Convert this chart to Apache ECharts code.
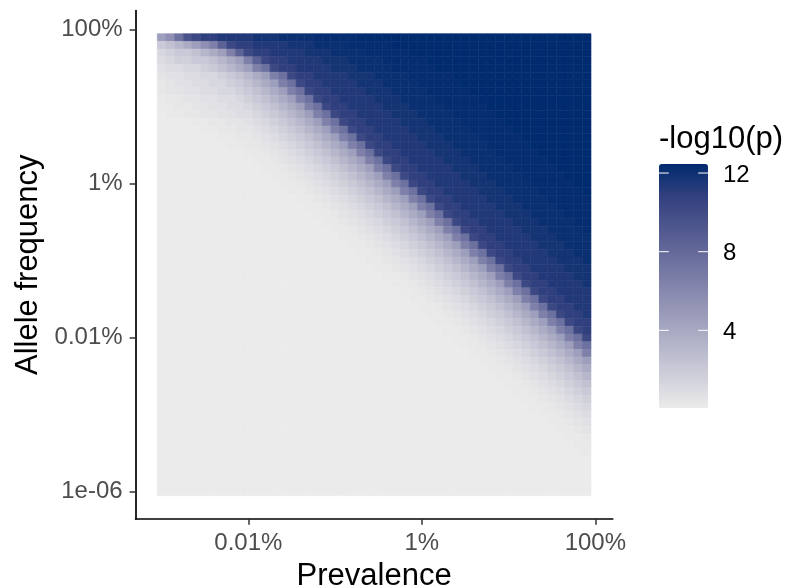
<!DOCTYPE html>
<html><head><meta charset="utf-8">
<script src="https://cdn.jsdelivr.net/npm/echarts@6/dist/echarts.min.js"></script>
<style>html,body{margin:0;padding:0;background:#fff}#c{width:786px;height:588px}</style>
</head><body><div id="c"></div>
<script>
// log10(prevalence) of each heatmap column (tile centres)
const prevalenceLog = [-5.0,-4.9,-4.8,-4.7,-4.6,-4.5,-4.4,-4.3,-4.2,-4.1,-4.0,-3.9,-3.8,-3.7,-3.6,-3.5,-3.4,-3.3,-3.2,-3.1,-3.0,-2.9,-2.8,-2.7,-2.6,-2.5,-2.4,-2.3,-2.2,-2.1,-2.0,-1.9,-1.8,-1.7,-1.6,-1.5,-1.4,-1.3,-1.2,-1.1,-1.0,-0.9,-0.8,-0.7,-0.6,-0.5,-0.4,-0.3,-0.2,-0.1];
// log10(allele frequency) of each heatmap row, top row first
const alleleFreqLog = [-0.1,-0.2,-0.3,-0.4,-0.5,-0.6,-0.7,-0.8,-0.9,-1.0,-1.1,-1.2,-1.3,-1.4,-1.5,-1.6,-1.7,-1.8,-1.9,-2.0,-2.1,-2.2,-2.3,-2.4,-2.5,-2.6,-2.7,-2.8,-2.9,-3.0,-3.1,-3.2,-3.3,-3.4,-3.5,-3.6,-3.7,-3.8,-3.9,-4.0,-4.1,-4.2,-4.3,-4.4,-4.5,-4.6,-4.7,-4.8,-4.9,-5.0,-5.1,-5.2,-5.3,-5.4,-5.5,-5.6,-5.7,-5.8,-5.9,-6.0];
// -log10(p) levels; one code character per tile
const levelCodes  = '0123456789abcdefghijklmno';
const levelValues = [0.05,0.15,0.3,0.45,0.65,0.9,1.2,1.6,2.0,2.5,3.1,3.8,4.6,5.5,6.5,7.5,8.5,9.5,10.3,10.9,11.4,11.8,12.1,12.3,12.46];
const gridRows = [
 'cdfhijjkkk'+'klllmmmmnn'+'nnnooooooo'+'oooooooooo'+'oooooooooo',
 '89abcdegij'+'jkkkklllmm'+'mmnnnnnooo'+'oooooooooo'+'oooooooooo',
 '67889abceg'+'ijjkkkklll'+'mmmmnnnnno'+'oooooooooo'+'oooooooooo',
 '5677889abc'+'egijjkkkkl'+'llmmmmnnnn'+'nooooooooo'+'oooooooooo',
 '45566789ab'+'cefijjkkkk'+'lllmmmmnnn'+'nnoooooooo'+'oooooooooo',
 '3445566789'+'abcefijjkk'+'kklllmmmmn'+'nnnnoooooo'+'oooooooooo',
 '2344556678'+'9abcefijjk'+'kkklllmmmm'+'nnnnnooooo'+'oooooooooo',
 '2334455667'+'89abcefijj'+'kkkklllmmm'+'mnnnnnoooo'+'oooooooooo',
 '1223344556'+'789abcefij'+'jkkkklllmm'+'mmnnnnnooo'+'oooooooooo',
 '1122334455'+'6789abcefi'+'jjkkkklllm'+'mmmnnnnnoo'+'oooooooooo',
 '0112233445'+'56789abcef'+'ijjkkkklll'+'mmmmnnnnno'+'oooooooooo',
 '0000112233'+'456789abce'+'fijjkkkkll'+'lmmmmnnnnn'+'oooooooooo',
 '0000011223'+'3456789abc'+'efijjkkkkl'+'llmmmmnnnn'+'nooooooooo',
 '0000000112'+'23456789ab'+'cefijjkkkk'+'lllmmmmnnn'+'nnoooooooo',
 '0000000011'+'223456789a'+'bcefijjkkk'+'klllmmmmnn'+'nnnooooooo',
 '0000000000'+'1123456789'+'abcefijjkk'+'kklllmmmmn'+'nnnnoooooo',
 '0000000000'+'0112345678'+'9abcefijjk'+'kkklllmmmm'+'nnnnnooooo',
 '0000000000'+'0011234567'+'89abcefijj'+'kkkklllmmm'+'mnnnnnoooo',
 '0000000000'+'0001123456'+'789abcefij'+'jkkkklllmm'+'mmnnnnnooo',
 '0000000000'+'0000112345'+'6789abcefi'+'jjkkkklllm'+'mmmnnnnnoo',
 '0000000000'+'0000011234'+'56789abcef'+'ijjkkkklll'+'mmmmnnnnno',
 '0000000000'+'0000001123'+'456789abce'+'fijjkkkkll'+'lmmmmnnnnn',
 '0000000000'+'0000000112'+'3456789abc'+'efijjkkkkl'+'llmmmmnnnn',
 '0000000000'+'0000000011'+'23456789ab'+'cefijjkkkk'+'lllmmmmnnn',
 '0000000000'+'0000000001'+'123456789a'+'bcefijjkkk'+'klllmmmmnn',
 '0000000000'+'0000000000'+'1123456789'+'abcefijjkk'+'kklllmmmmn',
 '0000000000'+'0000000000'+'0112345678'+'9abcefijjk'+'kkklllmmmm',
 '0000000000'+'0000000000'+'0011234567'+'89abcefijj'+'kkkklllmmm',
 '0000000000'+'0000000000'+'0001123456'+'789abcefij'+'jkkkklllmm',
 '0000000000'+'0000000000'+'0000112345'+'6789abcefi'+'jjkkkklllm',
 '0000000000'+'0000000000'+'0000011234'+'56789abcef'+'ijjkkkklll',
 '0000000000'+'0000000000'+'0000001123'+'456789abce'+'fijjkkkkll',
 '0000000000'+'0000000000'+'0000000112'+'3456789abc'+'efijjkkkkl',
 '0000000000'+'0000000000'+'0000000011'+'23456789ab'+'cefijjkkkk',
 '0000000000'+'0000000000'+'0000000001'+'123456789a'+'bcefijjkkk',
 '0000000000'+'0000000000'+'0000000000'+'1123456789'+'abcefijjkk',
 '0000000000'+'0000000000'+'0000000000'+'0112345678'+'9abcefijjk',
 '0000000000'+'0000000000'+'0000000000'+'0011234567'+'89abcefijj',
 '0000000000'+'0000000000'+'0000000000'+'0001123456'+'789abcefij',
 '0000000000'+'0000000000'+'0000000000'+'0000112345'+'6789abcefi',
 '0000000000'+'0000000000'+'0000000000'+'0000011234'+'56789abcef',
 '0000000000'+'0000000000'+'0000000000'+'0000001123'+'456789abce',
 '0000000000'+'0000000000'+'0000000000'+'0000000112'+'3456789abc',
 '0000000000'+'0000000000'+'0000000000'+'0000000011'+'23456789ab',
 '0000000000'+'0000000000'+'0000000000'+'0000000001'+'123456789a',
 '0000000000'+'0000000000'+'0000000000'+'0000000000'+'1123456789',
 '0000000000'+'0000000000'+'0000000000'+'0000000000'+'0112345678',
 '0000000000'+'0000000000'+'0000000000'+'0000000000'+'0011234567',
 '0000000000'+'0000000000'+'0000000000'+'0000000000'+'0001123456',
 '0000000000'+'0000000000'+'0000000000'+'0000000000'+'0000112345',
 '0000000000'+'0000000000'+'0000000000'+'0000000000'+'0000011234',
 '0000000000'+'0000000000'+'0000000000'+'0000000000'+'0000001123',
 '0000000000'+'0000000000'+'0000000000'+'0000000000'+'0000000112',
 '0000000000'+'0000000000'+'0000000000'+'0000000000'+'0000000011',
 '0000000000'+'0000000000'+'0000000000'+'0000000000'+'0000000001',
 '0000000000'+'0000000000'+'0000000000'+'0000000000'+'0000000000',
 '0000000000'+'0000000000'+'0000000000'+'0000000000'+'0000000000',
 '0000000000'+'0000000000'+'0000000000'+'0000000000'+'0000000000',
 '0000000000'+'0000000000'+'0000000000'+'0000000000'+'0000000000',
 '0000000000'+'0000000000'+'0000000000'+'0000000000'+'0000000000'
];
const xTickValues = [-4, -2, 0];
const xTickLabels = ['0.01%', '1%', '100%'];
const yTickValues = [-6, -4, -2, 0];
const yTickLabels = ['1e-06', '0.01%', '1%', '100%'];
const legendTicks = [4, 8, 12];
const valueMin = 0.05, valueMax = 12.46;
const colourStops = ['#EBEBEB','#D0D0DB','#B6B6CB','#9C9DBB','#8284AC','#686C9C','#4D558D','#303F7D','#002B6E'];

if (gridRows.length !== alleleFreqLog.length) throw new Error('row count ' + gridRows.length);
const heatData = [];
gridRows.forEach((row, i) => {
  if (row.length !== prevalenceLog.length) throw new Error('row ' + i + ' has length ' + row.length);
  for (let j = 0; j < row.length; j++) {
    const k = levelCodes.indexOf(row[j]);
    if (k < 0) throw new Error('bad code ' + row[j]);
    heatData.push([prevalenceLog[j], alleleFreqLog[i], levelValues[k]]);
  }
});
const halfW = Math.abs(prevalenceLog[1] - prevalenceLog[0]) / 2;
const halfH = Math.abs(alleleFreqLog[1] - alleleFreqLog[0]) / 2;

function pick(vals, labels) {
  return v => { const i = vals.findIndex(t => Math.abs(t - v) < 1e-9); return i < 0 ? '' : labels[i]; };
}
const FONT = 'Liberation Sans, Arial, Helvetica, sans-serif';

const legendLeft = 659, legendTop = 164, barW = 49, barH = 244;
const graphics = [{
  type: 'text', left: legendLeft, top: 124,
  style: { text: '-log10(p)', font: '31px ' + FONT, fill: '#000' }
}];
legendTicks.forEach(v => {
  const y = legendTop + (valueMax - v) / (valueMax - valueMin) * barH;
  graphics.push({ type: 'line', shape: { x1: legendLeft, y1: y, x2: legendLeft + barW / 5, y2: y }, style: { stroke: '#fff', lineWidth: 1 }, z: 100 });
  graphics.push({ type: 'line', shape: { x1: legendLeft + barW - barW / 5, y1: y, x2: legendLeft + barW, y2: y }, style: { stroke: '#fff', lineWidth: 1 }, z: 100 });
  graphics.push({ type: 'text', x: legendLeft + barW + 15, y: y + 2, style: { text: String(v), font: '24px ' + FONT, fill: '#000', textVerticalAlign: 'middle', verticalAlign: 'middle' }, z: 100 });
});

const chart = echarts.init(document.getElementById('c'), null, { renderer: 'canvas' });
chart.setOption({
  animation: false,
  backgroundColor: '#fff',
  grid: { left: 135.6, right: 173.3, top: 10.6, bottom: 69.2, containLabel: false, outerBoundsMode: 'none' },
  xAxis: {
    type: 'value', min: -5.3, max: 0.2,
    name: 'Prevalence', nameLocation: 'middle', nameGap: 36,
    nameTextStyle: { fontSize: 31, color: '#000', fontFamily: FONT },
    axisLine: { show: true, onZero: false, lineStyle: { color: '#000', width: 1.7 } },
    axisTick: { show: true, customValues: xTickValues, length: 6, lineStyle: { color: '#333', width: 1.5 } },
    axisLabel: { customValues: xTickValues, formatter: pick(xTickValues, xTickLabels), color: '#4D4D4D', fontSize: 24, fontFamily: FONT, margin: 13 },
    splitLine: { show: false }
  },
  yAxis: {
    type: 'value', min: -6.35, max: 0.25,
    name: 'Allele frequency', nameLocation: 'middle', nameGap: 91, nameRotate: 90,
    nameTextStyle: { fontSize: 31, color: '#000', fontFamily: FONT },
    axisLine: { show: true, onZero: false, lineStyle: { color: '#000', width: 1.7 } },
    axisTick: { show: true, customValues: yTickValues, length: 6, lineStyle: { color: '#333', width: 1.5 } },
    axisLabel: { customValues: yTickValues, formatter: pick(yTickValues, yTickLabels), color: '#4D4D4D', fontSize: 24, fontFamily: FONT, margin: 13 },
    splitLine: { show: false }
  },
  visualMap: {
    type: 'continuous', min: valueMin, max: valueMax, dimension: 2, seriesIndex: 0,
    calculable: false, text: null, showLabel: false, realtime: false,
    left: legendLeft, top: legendTop, itemWidth: barW, itemHeight: barH, padding: 0,
    inRange: { color: colourStops }
  },
  graphic: graphics,
  series: [{
    type: 'custom', coordinateSystem: 'cartesian2d', encode: { x: 0, y: 1 },
    data: heatData, silent: true,
    renderItem: (params, api) => {
      const x = api.value(0), y = api.value(1);
      const p1 = api.coord([x - halfW, y + halfH]);
      const p2 = api.coord([x + halfW, y - halfH]);
      const c = api.visual('color');
      return { type: 'rect', shape: { x: p1[0], y: p1[1], width: p2[0] - p1[0], height: p2[1] - p1[1] },
               style: { fill: c, stroke: c, lineWidth: 0.6 } };
    }
  }]
});
</script>
</body></html>
